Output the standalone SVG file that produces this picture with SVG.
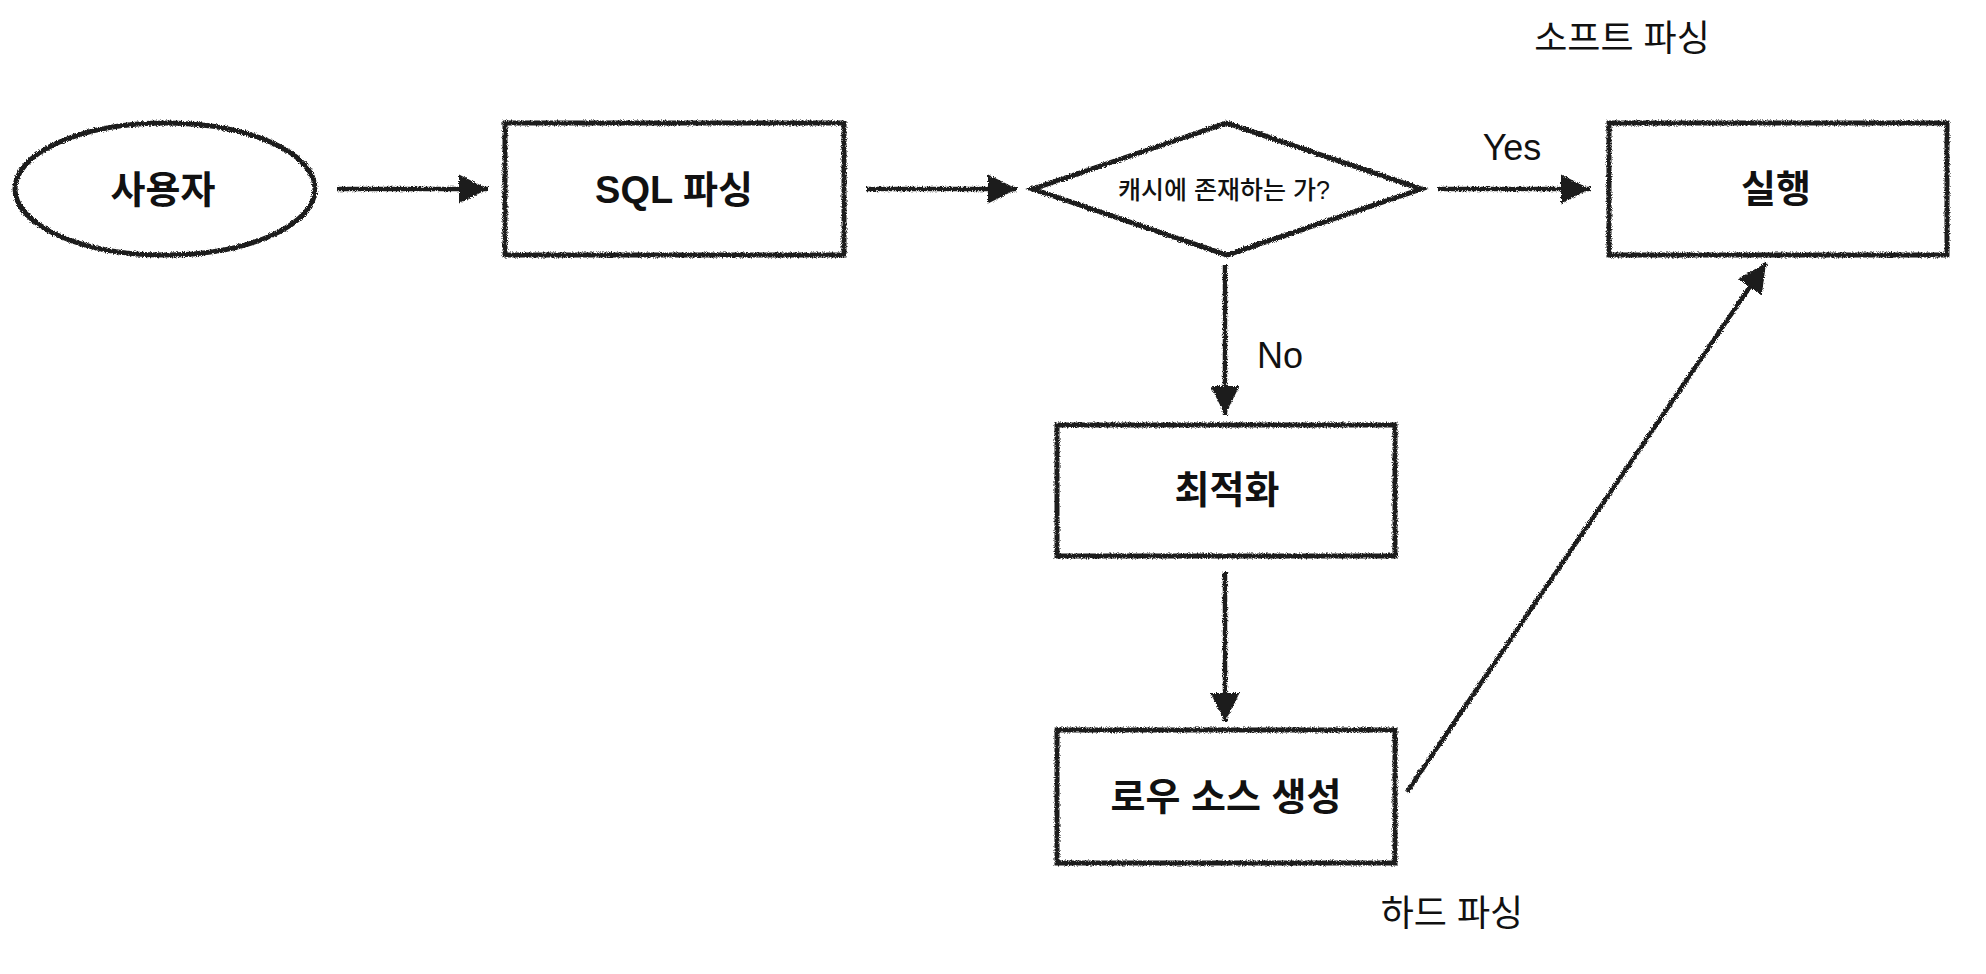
<svg xmlns="http://www.w3.org/2000/svg" width="1986" height="974" viewBox="0 0 1986 974">
<defs>
<style>
.shape{fill:#ffffff;stroke:#1a1a1a;stroke-width:5;filter:url(#rough)}
.conn{fill:none;stroke:#1a1a1a;stroke-width:4.5;filter:url(#rough)}
.t{font-family:"Liberation Sans","Noto Sans CJK KR",sans-serif;fill:#111;text-anchor:middle}
.c{dominant-baseline:central}
.tb{font-weight:700;font-size:38px}
.lbl{font-weight:400;font-size:36px}
</style>
<filter id="rough" filterUnits="userSpaceOnUse" x="0" y="0" width="1986" height="974">
<feTurbulence type="fractalNoise" baseFrequency="1.2" numOctaves="2" seed="5" result="n"/>
<feDisplacementMap in="SourceGraphic" in2="n" scale="4" xChannelSelector="R" yChannelSelector="G"/>
</filter>
<marker id="ah" viewBox="0 0 10 10" refX="10" refY="5" markerWidth="6.5" markerHeight="7.5" markerUnits="strokeWidth" orient="auto">
<path d="M0,0 L10,5 L0,10 Z" fill="#1a1a1a"/>
</marker>
</defs>
<rect width="1986" height="974" fill="#ffffff"/>

<g id="connectors">
<line class="conn" x1="337" y1="189" x2="488" y2="189" marker-end="url(#ah)"/>
<line class="conn" x1="866" y1="189" x2="1017" y2="189" marker-end="url(#ah)"/>
<line class="conn" x1="1438" y1="189" x2="1590" y2="189" marker-end="url(#ah)"/>
<line class="conn" x1="1225" y1="265" x2="1225" y2="415" marker-end="url(#ah)"/>
<line class="conn" x1="1225" y1="572" x2="1225" y2="722" marker-end="url(#ah)"/>
<line class="conn" x1="1407" y1="792" x2="1766" y2="263" marker-end="url(#ah)"/>
<text class="t lbl" x="1512" y="160">Yes</text>
<text class="t lbl" x="1280" y="368">No</text>
<text class="t lbl c" x="1622" y="38">소프트 파싱</text>
<text class="t lbl c" x="1452" y="913">하드 파싱</text>
</g>

<g id="user">
<ellipse class="shape" cx="165" cy="189" rx="150" ry="66"/>
<text class="t c tb" x="163" y="190">사용자</text>
</g>

<g id="sql-parse">
<rect class="shape" x="505" y="123" width="339" height="132"/>
<text class="t c tb" x="674" y="190">SQL 파싱</text>
</g>

<g id="cache-check">
<polygon class="shape" points="1227,123 1421,189 1227,255 1033,189"/>
<text class="t c" x="1224" y="190" font-size="25" font-weight="500">캐시에 존재하는 가?</text>
</g>

<g id="execute">
<rect class="shape" x="1609" y="123" width="338" height="132"/>
<text class="t c tb" x="1776" y="189">실행</text>
</g>

<g id="optimize">
<rect class="shape" x="1057" y="425" width="338" height="131"/>
<text class="t c tb" x="1227" y="490">최적화</text>
</g>

<g id="row-source">
<rect class="shape" x="1057" y="730" width="338" height="133"/>
<text class="t c tb" x="1226" y="797">로우 소스 생성</text>
</g>
</svg>
